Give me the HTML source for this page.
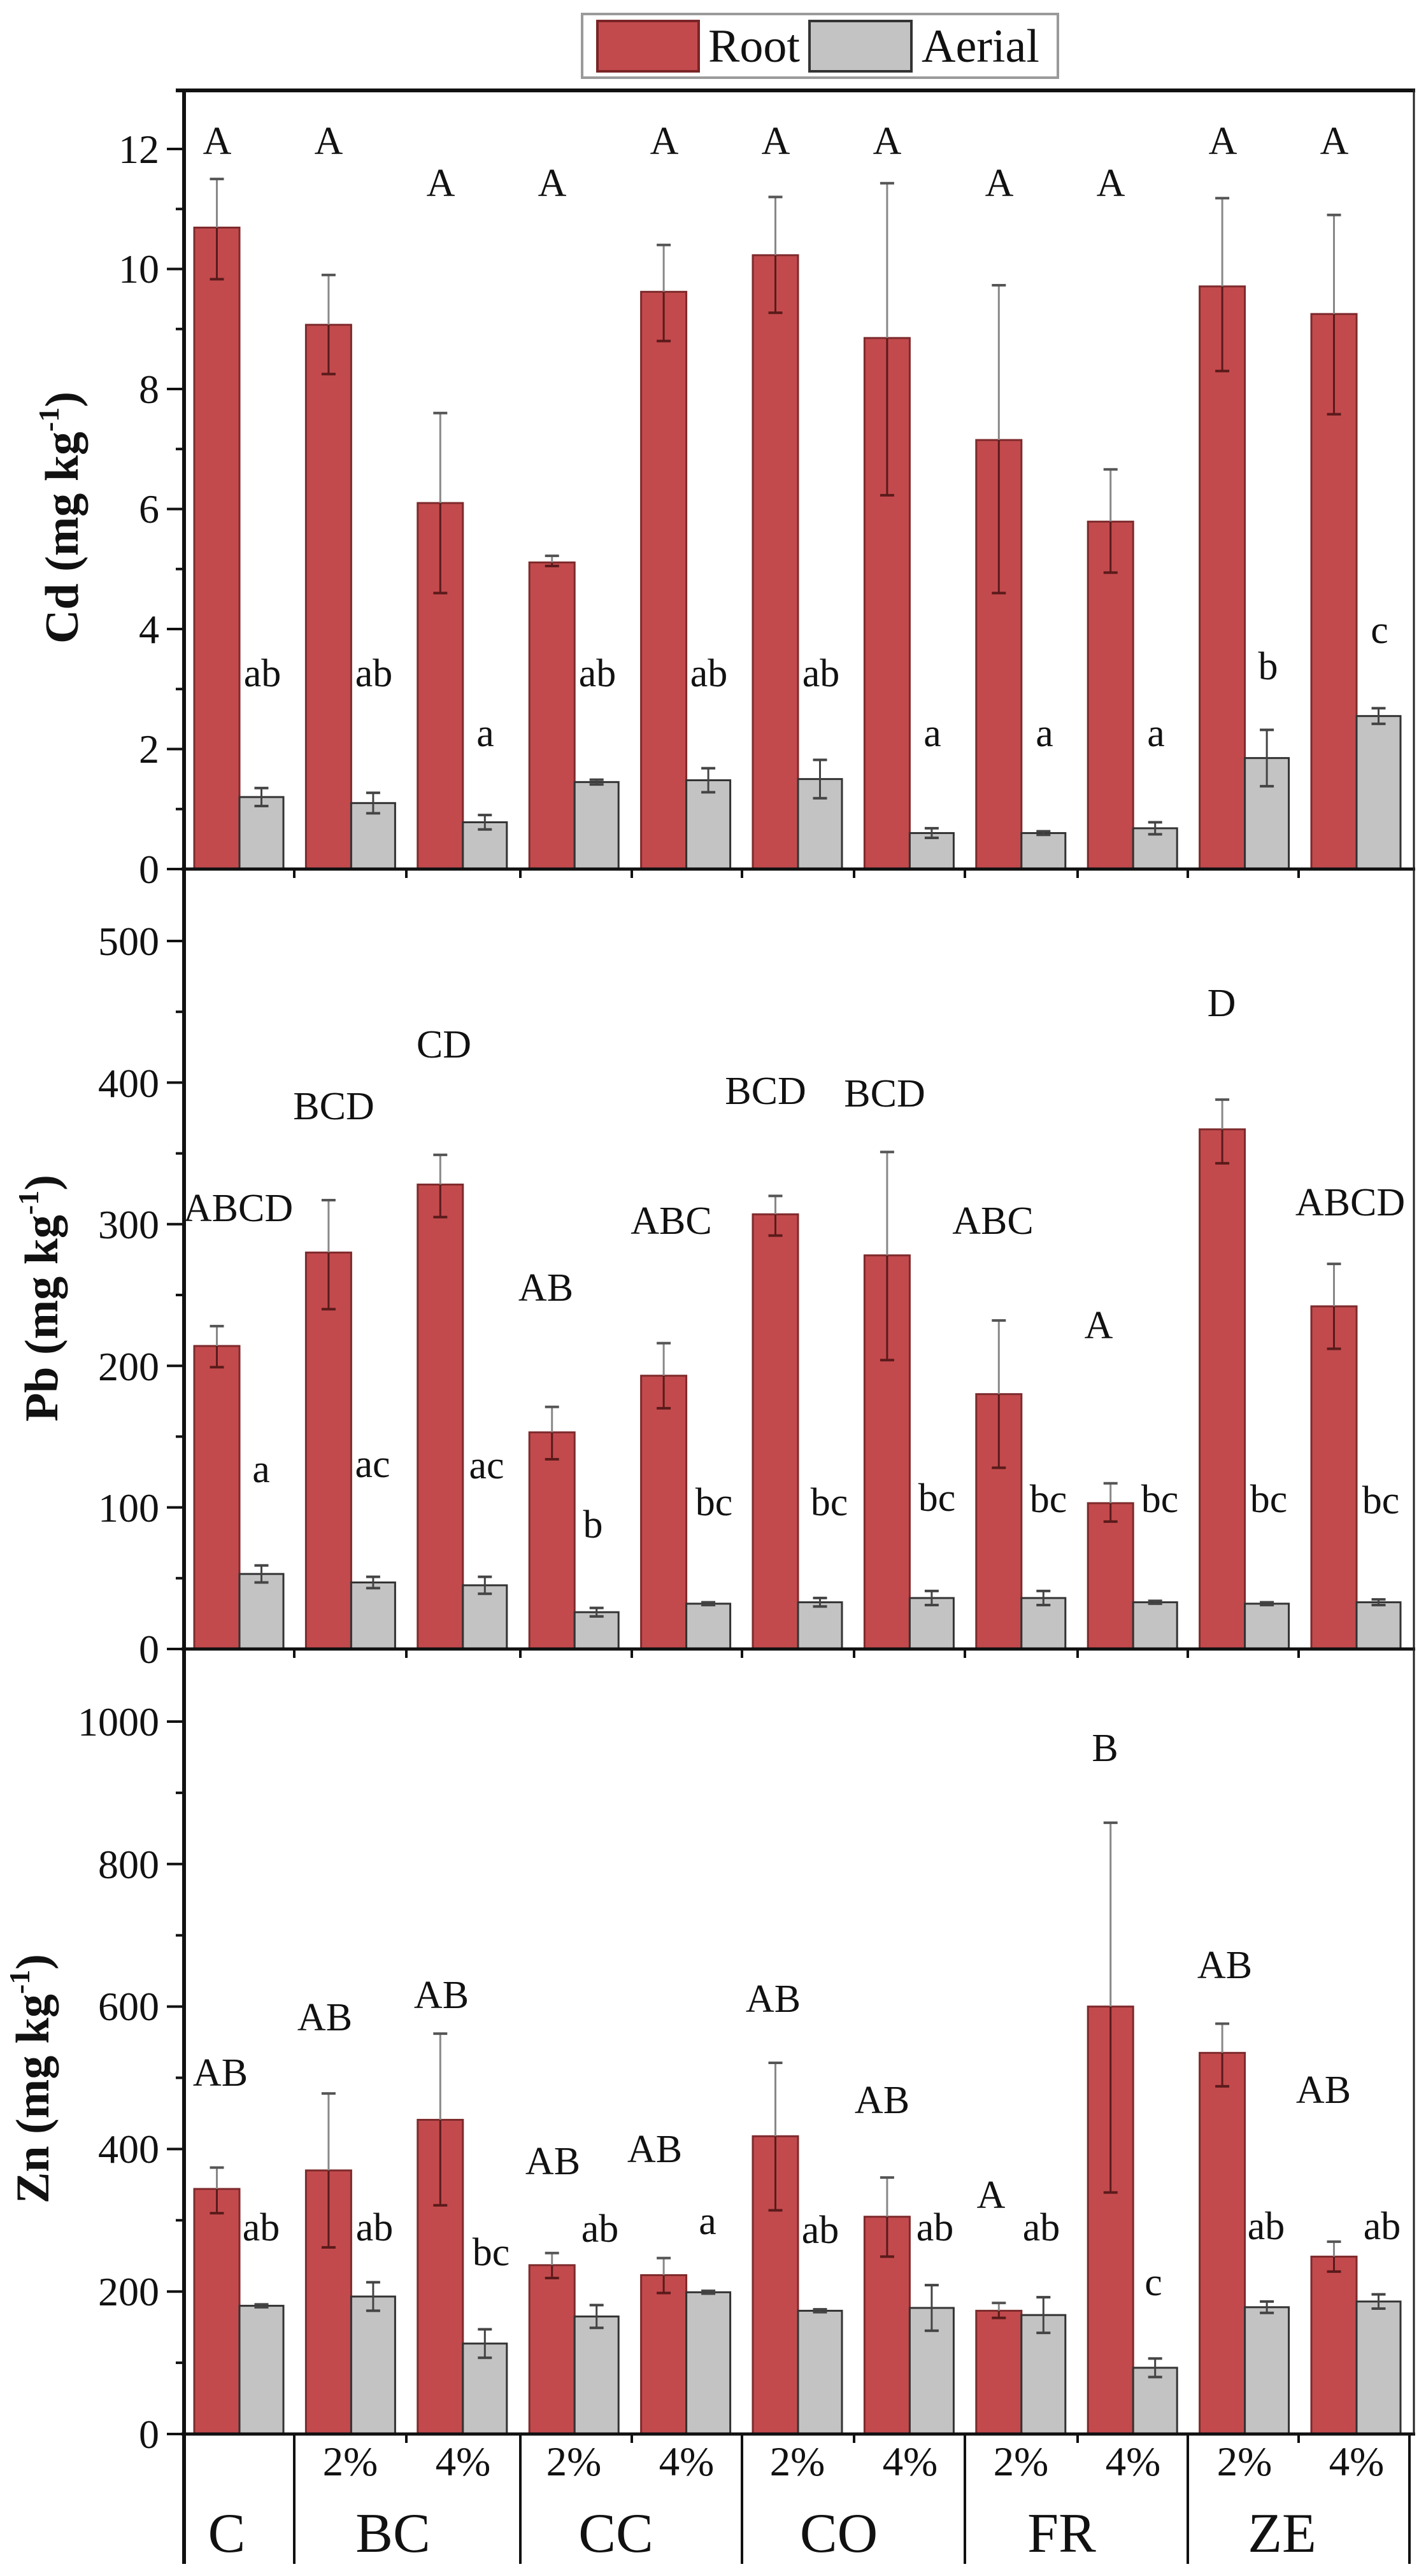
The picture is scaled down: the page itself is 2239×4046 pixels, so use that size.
<!DOCTYPE html>
<html><head><meta charset="utf-8">
<style>
html,body{margin:0;padding:0;background:#fff;}
svg{display:block;}
text{font-family:"Liberation Serif",serif;fill:#111;}
</style></head>
<body>
<svg id="s" width="2239" height="4046" viewBox="0 0 2239 4046" xmlns="http://www.w3.org/2000/svg">
<rect width="2239" height="4046" fill="#fff"/>
<g id="g"></g>
<!-- legend -->
<rect x="914" y="22" width="747" height="100" fill="#fff" stroke="#9a9a9a" stroke-width="4"/>
<rect x="938" y="33" width="159" height="79" fill="#c24a4d" stroke="#7a2426" stroke-width="4"/>
<rect x="1271" y="33" width="160" height="79" fill="#c3c3c3" stroke="#333" stroke-width="4"/>
<text x="1112" y="97" font-size="74">Root</text>
<text x="1447" y="97" font-size="74">Aerial</text>

<!-- y axis titles -->
<text transform="translate(122,813) rotate(-90)" text-anchor="middle" font-size="74" font-weight="bold">Cd (mg kg<tspan font-size="46" dy="-30">-1</tspan><tspan dy="30">)</tspan></text>
<text transform="translate(90,2039) rotate(-90)" text-anchor="middle" font-size="74" font-weight="bold">Pb (mg kg<tspan font-size="46" dy="-30">-1</tspan><tspan dy="30">)</tspan></text>
<text transform="translate(76,3265) rotate(-90)" text-anchor="middle" font-size="74" font-weight="bold">Zn (mg kg<tspan font-size="46" dy="-30">-1</tspan><tspan dy="30">)</tspan></text>

<!-- tick labels -->
<g font-size="64" text-anchor="end">
<text x="250" y="256">12</text><text x="250" y="444">10</text><text x="250" y="633">8</text><text x="250" y="821">6</text><text x="250" y="1010">4</text><text x="250" y="1198">2</text><text x="250" y="1387">0</text>
<text x="250" y="1500">500</text><text x="250" y="1723">400</text><text x="250" y="1945">300</text><text x="250" y="2168">200</text><text x="250" y="2390">100</text><text x="250" y="2612">0</text>
<text x="250" y="2726">1000</text><text x="250" y="2950">800</text><text x="250" y="3173">600</text><text x="250" y="3397">400</text><text x="250" y="3621">200</text><text x="250" y="3845">0</text>
</g>

<!-- Cd letters -->
<g font-size="62" text-anchor="middle">
<text x="341" y="242">A</text><text x="516" y="242">A</text><text x="692" y="308">A</text><text x="867" y="308">A</text><text x="1043" y="242">A</text><text x="1218" y="242">A</text><text x="1393" y="242">A</text><text x="1569" y="308">A</text><text x="1744" y="308">A</text><text x="1920" y="242">A</text><text x="2095" y="242">A</text>
<text x="412" y="1078">ab</text><text x="587" y="1078">ab</text><text x="762" y="1172">a</text><text x="938" y="1078">ab</text><text x="1113" y="1078">ab</text><text x="1289" y="1078">ab</text><text x="1464" y="1172">a</text><text x="1640" y="1172">a</text><text x="1815" y="1172">a</text><text x="1991" y="1067">b</text><text x="2166" y="1010">c</text>
</g>
<!-- Pb letters -->
<g font-size="62" text-anchor="middle">
<text x="374" y="1918">ABCD</text><text x="524" y="1758">BCD</text><text x="697" y="1661">CD</text><text x="857" y="2043">AB</text><text x="1054" y="1938">ABC</text><text x="1202" y="1734">BCD</text><text x="1389" y="1738">BCD</text><text x="1559" y="1938">ABC</text><text x="1725" y="2102">A</text><text x="1918" y="1596">D</text><text x="2120" y="1909">ABCD</text>
<text x="410" y="2328">a</text><text x="585" y="2320">ac</text><text x="764" y="2322">ac</text><text x="931" y="2415">b</text><text x="1121" y="2380">bc</text><text x="1302" y="2380">bc</text><text x="1471" y="2373">bc</text><text x="1646" y="2375">bc</text><text x="1821" y="2375">bc</text><text x="1992" y="2375">bc</text><text x="2168" y="2377">bc</text>
</g>
<!-- Zn letters -->
<g font-size="62" text-anchor="middle">
<text x="346" y="3276">AB</text><text x="510" y="3189">AB</text><text x="693" y="3154">AB</text><text x="868" y="3415">AB</text><text x="1028" y="3396">AB</text><text x="1214" y="3160">AB</text><text x="1385" y="3319">AB</text><text x="1556" y="3468">A</text><text x="1735" y="2766">B</text><text x="1923" y="3107">AB</text><text x="2078" y="3303">AB</text>
<text x="410" y="3519">ab</text><text x="588" y="3519">ab</text><text x="771" y="3558">bc</text><text x="942" y="3521">ab</text><text x="1111" y="3509">a</text><text x="1288" y="3523">ab</text><text x="1468" y="3519">ab</text><text x="1635" y="3519">ab</text><text x="1811" y="3605">c</text><text x="1988" y="3517">ab</text><text x="2170" y="3517">ab</text>
</g>
<!-- category labels -->
<g font-size="65" text-anchor="middle">
<text x="550" y="3888">2%</text><text x="727" y="3888">4%</text><text x="901" y="3888">2%</text><text x="1078" y="3888">4%</text><text x="1252" y="3888">2%</text><text x="1429" y="3888">4%</text><text x="1603" y="3888">2%</text><text x="1779" y="3888">4%</text><text x="1954" y="3888">2%</text><text x="2130" y="3888">4%</text>
</g>
<g font-size="88" text-anchor="middle">
<text x="356" y="4008">C</text><text x="617" y="4008">BC</text><text x="967" y="4008">CC</text><text x="1317" y="4008">CO</text><text x="1667" y="4008">FR</text><text x="2013" y="4008">ZE</text>
</g>
</svg>
<script>
(function(){
var NS="http://www.w3.org/2000/svg",g=document.getElementById("g");
function el(t,a){var e=document.createElementNS(NS,t);for(var k in a)e.setAttribute(k,a[k]);g.appendChild(e);return e;}
var panels=[
 {z:1365,s:94.25,
  r:[[10.69,9.83,11.5],[9.07,8.25,9.9],[6.1,4.6,7.6],[5.11,5.05,5.22],[9.62,8.8,10.4],[10.23,9.27,11.2],[8.85,6.23,11.43],[7.15,4.6,9.73],[5.79,4.94,6.66],[9.71,8.3,11.18],[9.25,7.58,10.9]],
  a:[[1.2,0.15],[1.1,0.17],[0.78,0.12],[1.45,0.04],[1.48,0.2],[1.5,0.32],[0.6,0.08],[0.6,0.03],[0.68,0.1],[1.85,0.47],[2.55,0.13]],
  maj:2,min:1,max:12},
 {z:2590,s:2.224,
  r:[[214,199,228],[280,240,317],[328,305,349],[153,134,171],[193,170,216],[307,292,320],[278,204,351],[180,128,232],[103,90,117],[367,343,388],[242,212,272]],
  a:[[53,6],[47,4],[45,6],[26,3],[32,1],[33,3],[36,5],[36,5],[33,1],[32,1],[33,2]],
  maj:100,min:50,max:500},
 {z:3823,s:1.119,
  r:[[344,310,374],[370,262,478],[441,321,562],[237,219,254],[223,198,247],[418,314,521],[305,249,360],[173,163,184],[600,339,858],[535,488,576],[249,228,270]],
  a:[[180,2],[193,20],[127,20],[165,16],[199,2],[173,2],[177,32],[167,25],[93,13],[178,8],[186,10]],
  maj:200,min:100,max:1000}
];
var tops=[142,1365,2590];
panels.forEach(function(p,pi){
 var Y=function(v){return p.z-v*p.s;};
 for(var i=0;i<11;i++){
  var x=305+175.4*i;
  var r=p.r[i],a=p.a[i];
  el("rect",{x:x,y:Y(r[0]),width:71,height:p.z-Y(r[0]),fill:"#c24a4d",stroke:"#7e2a2c","stroke-width":3});
  el("rect",{x:x+71,y:Y(a[0]),width:69,height:p.z-Y(a[0]),fill:"#c3c3c3",stroke:"#333","stroke-width":3});
  var cx=x+35.5;
  el("line",{x1:cx,x2:cx,y1:Y(r[2]),y2:Y(r[0]),stroke:"#888","stroke-width":3});
  el("line",{x1:cx,x2:cx,y1:Y(r[0]),y2:Y(r[1]),stroke:"#5a1a1a","stroke-width":3});
  el("line",{x1:cx-11,x2:cx+11,y1:Y(r[2]),y2:Y(r[2]),stroke:"#555","stroke-width":4});
  el("line",{x1:cx-11,x2:cx+11,y1:Y(r[1]),y2:Y(r[1]),stroke:"#5a1a1a","stroke-width":4});
  var ax=x+105.5;
  el("line",{x1:ax,x2:ax,y1:Y(a[0]+a[1]),y2:Y(a[0]-a[1]),stroke:"#444","stroke-width":3});
  el("line",{x1:ax-11,x2:ax+11,y1:Y(a[0]+a[1]),y2:Y(a[0]+a[1]),stroke:"#444","stroke-width":4});
  el("line",{x1:ax-11,x2:ax+11,y1:Y(a[0]-a[1]),y2:Y(a[0]-a[1]),stroke:"#444","stroke-width":4});
 }
 for(var v=0;v<=p.max+1e-9;v+=p.min){
  var maj=Math.abs(v/p.maj-Math.round(v/p.maj))<1e-6;
  el("line",{x1:maj?262:276,x2:289,y1:Y(v),y2:Y(v),stroke:"#111","stroke-width":4});
 }
 el("line",{x1:285,x2:2222,y1:p.z,y2:p.z,stroke:"#111","stroke-width":5});
 [462,638,817,992,1165,1341,1515,1692,1865,2039].forEach(function(t){
  el("line",{x1:t,x2:t,y1:p.z,y2:p.z+14,stroke:"#111","stroke-width":4});
 });
});
el("line",{x1:276,x2:2222,y1:142,y2:142,stroke:"#111","stroke-width":6});
el("line",{x1:289,x2:289,y1:140,y2:4027,stroke:"#111","stroke-width":6});
el("line",{x1:2220,x2:2220,y1:140,y2:3823,stroke:"#222","stroke-width":3});
[462,817,1165,1515,1865,2213].forEach(function(t){
 el("line",{x1:t,x2:t,y1:3823,y2:4027,stroke:"#111","stroke-width":4});
});
})();
</script>
</body></html>
